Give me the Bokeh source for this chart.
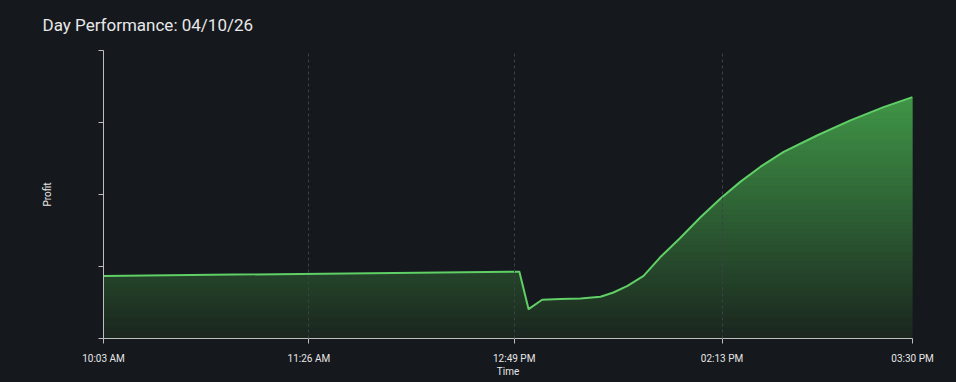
from bokeh.plotting import figure
from bokeh.models import FixedTicker, Range1d
from bokeh.embed import file_html
from bokeh.resources import INLINE

# ---- data ----
times = ["10:03:00", "12:51:06", "12:54:48", "13:00:18", "13:07:42", "13:15:48",
         "13:23:54", "13:29:06", "13:34:48", "13:41:18", "13:48:06", "13:56:12",
         "14:04:18", "14:12:24", "14:20:30", "14:28:36", "14:37:54", "14:51:36",
         "15:04:54", "15:18:18", "15:30:00"]
profit = [86.9, 92.8, 40.9, 53.8, 54.8, 55.6,
          57.9, 63.9, 73.1, 86.9, 113.1, 140.0,
          168.3, 194.5, 217.9, 238.6, 259.3, 282.3,
          303.0, 321.4, 335.2]
tick_times = ["10:03", "11:26", "12:49", "14:13", "15:30"]
tick_labels = ["10:03 AM", "11:26 AM", "12:49 PM", "02:13 PM", "03:30 PM"]
y_ticks = [0, 100, 200, 300, 400]
title_text = "Day Performance: 04/10/26"


def to_min(s):
    parts = [int(v) for v in s.split(":")]
    while len(parts) < 3:
        parts.append(0)
    return parts[0] * 60 + parts[1] + parts[2] / 60.0


xs = [to_min(t) for t in times]
tx = [to_min(t) for t in tick_times]

BG = "#15181d"
x0, x1 = xs[0], xs[-1]
y_top = y_ticks[-1]

p = figure(width=956, height=382, output_backend="svg", toolbar_location=None,
           x_range=Range1d(x0, x1), y_range=Range1d(0, y_top),
           min_border_left=103, min_border_right=44, min_border_top=48,
           min_border_bottom=44)
p.background_fill_color = BG
p.border_fill_color = BG
p.outline_line_color = None

# gradient fill via horizontal bands, masked above the curve
ymax = max(profit)
N = 90
c_bot = (27, 38, 31)
c_top = (64, 150, 72)
lefts, rights, bots, tops, cols = [], [], [], [], []
for i in range(N):
    lo = ymax * i / N
    hi = ymax * (i + 1) / N
    f = (i + 0.5) / N
    c = tuple(int(round(c_bot[k] + (c_top[k] - c_bot[k]) * f)) for k in range(3))
    lefts.append(x0); rights.append(x1); bots.append(lo); tops.append(hi)
    cols.append("#%02x%02x%02x" % c)
p.quad(left=lefts, right=rights, bottom=bots, top=tops, fill_color=cols, line_color=cols, line_width=1)
p.varea(x=xs, y1=profit, y2=[y_top] * len(xs), fill_color=BG)
p.line(xs, profit, line_color="#5fcf66", line_width=2, line_join="round")

# axes
for ax in (p.xaxis, p.yaxis):
    ax.axis_line_color = "#bdbdbd"
    ax.major_tick_line_color = "#bdbdbd"
    ax.minor_tick_line_color = None
    ax.major_tick_out = 5
    ax.major_tick_in = 0
    ax.axis_label_text_color = "#e6e6e6"
    ax.axis_label_text_font = "Roboto"
    ax.axis_label_text_font_size = "10px"
    ax.axis_label_text_font_style = "normal"
    ax.major_label_text_color = "#e6e6e6"
    ax.major_label_text_font = "Roboto"
    ax.major_label_text_font_size = "10px"

p.xaxis.ticker = FixedTicker(ticks=tx)
p.xaxis.major_label_overrides = {t: l for t, l in zip(tx, tick_labels)}
p.xaxis.axis_label = "Time"
p.xaxis.major_label_standoff = 9
p.xaxis.axis_label_standoff = -1

p.yaxis.ticker = FixedTicker(ticks=y_ticks)
p.yaxis.major_label_overrides = {t: "" for t in y_ticks}
p.yaxis.axis_label = "Profit"
p.yaxis.axis_label_standoff = 46

p.ygrid.grid_line_color = None
p.xgrid.grid_line_color = "#3d4147"
p.xgrid.grid_line_dash = "3 3"
p.xgrid.level = "annotation"

p.title.text = title_text
p.title.text_font = "Roboto"
p.title.text_font_size = "17px"
p.title.text_font_style = "normal"
p.title.text_color = "#e8e8e8"
p.title.align = "left"
p.title.offset = -61
p.title.vertical_align = "top"
p.title.standoff = 28

html = file_html(p, INLINE)
html = html.replace("</head>", "<style>body{background:%s;}</style></head>" % BG, 1)
open("out.html", "w").write(html)
